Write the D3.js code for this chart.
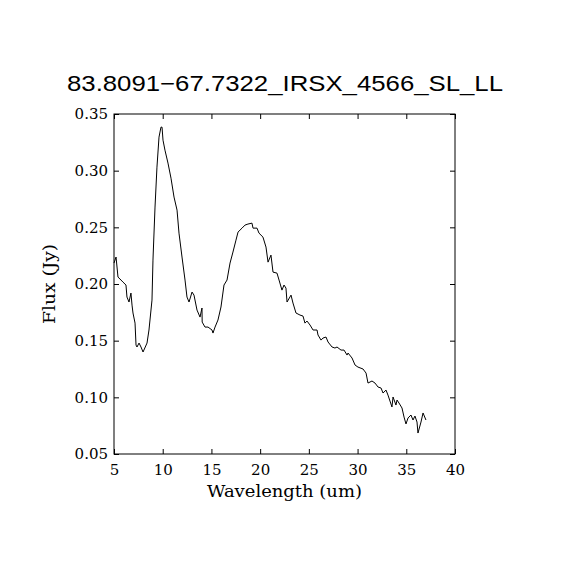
<!DOCTYPE html>
<html>
<head>
<meta charset="utf-8">
<script src="https://cdn.jsdelivr.net/npm/d3@7"></script>
<style>
  body { margin: 0; background: #fff; }
  svg { display: block; }
</style>
</head>
<body>
<div id="chart"></div>
<script>
// spectrum, wavelength (um) and flux (Jy)
const wavelength = [
  5.00, 5.21, 5.41, 5.72, 5.92, 6.23, 6.33, 6.54, 6.74, 6.85, 6.95, 7.16, 7.26, 7.36, 7.57, 7.77,
  7.98, 8.39, 8.59, 8.90, 9.00, 9.21, 9.41, 9.62, 9.82, 9.93, 10.03, 10.23, 10.54, 10.85, 11.16,
  11.47, 11.67, 11.98, 12.29, 12.49, 12.70, 13.01, 13.21, 13.52, 13.83, 14.03, 14.05, 14.34, 14.65,
  15.06, 15.16, 15.37, 15.67, 15.98, 16.29, 16.60, 16.91, 17.21, 17.52, 17.73, 18.14, 18.45, 18.75,
  19.16, 19.27, 19.68, 19.88, 20.29, 20.60, 20.81, 21.11, 21.32, 21.73, 21.94, 22.24, 22.45, 22.65,
  22.76, 23.17, 23.37, 23.68, 24.09, 24.40, 24.60, 24.81, 25.12, 25.43, 25.84, 25.94, 26.25, 26.45,
  26.76, 26.97, 27.38, 27.68, 27.89, 28.30, 28.61, 28.92, 29.02, 29.43, 29.74, 30.04, 30.56, 30.87,
  31.07, 31.48, 31.79, 32.10, 32.41, 32.61, 32.92, 33.12, 33.53, 33.64, 33.94, 34.05, 34.25, 34.56,
  34.77, 34.97, 35.18, 35.48, 35.69, 35.89, 36.10, 36.20, 36.51, 36.72, 37.02
];
const flux = [
  0.2185, 0.2238, 0.2061, 0.2035, 0.2017, 0.1991, 0.1885, 0.1841, 0.1920, 0.1814, 0.1744, 0.1655,
  0.1461, 0.1444, 0.1479, 0.1444, 0.1400, 0.1479, 0.1594, 0.1858, 0.2211, 0.2679, 0.3031, 0.3296,
  0.3384, 0.3384, 0.3269, 0.3181, 0.3067, 0.2934, 0.2767, 0.2652, 0.2449, 0.2238, 0.2035, 0.1885,
  0.1841, 0.1929, 0.1902, 0.1770, 0.1708, 0.1788, 0.1664, 0.1620, 0.1620, 0.1594, 0.1567, 0.1620,
  0.1682, 0.1797, 0.1991, 0.2035, 0.2185, 0.2282, 0.2387, 0.2458, 0.2493, 0.2520, 0.2529, 0.2537,
  0.2493, 0.2493, 0.2449, 0.2414, 0.2326, 0.2193, 0.2255, 0.2105, 0.2096, 0.2035, 0.1946, 0.1991,
  0.1964, 0.1841, 0.1902, 0.1832, 0.1744, 0.1726, 0.1717, 0.1655, 0.1673, 0.1638, 0.1594, 0.1594,
  0.1550, 0.1505, 0.1523, 0.1532, 0.1488, 0.1444, 0.1435, 0.1444, 0.1417, 0.1417, 0.1373, 0.1391,
  0.1347, 0.1285, 0.1267, 0.1250, 0.1214, 0.1126, 0.1144, 0.1126, 0.1091, 0.1082, 0.1038, 0.1064,
  0.1020, 0.0915, 0.1003, 0.0932, 0.0976, 0.0950, 0.0906, 0.0826, 0.0765, 0.0818, 0.0844, 0.0800,
  0.0835, 0.0782, 0.0685, 0.0782, 0.0862, 0.0800
];

const xTicks = [5, 10, 15, 20, 25, 30, 35, 40];
const yTicks = [0.05, 0.10, 0.15, 0.20, 0.25, 0.30, 0.35];

const title = "83.8091\u221267.7322_IRSX_4566_SL_LL";
const xLabel = "Wavelength (um)";
const yLabel = "Flux (Jy)";

const width = 570, height = 570;
const margin = { left: 114, right: 115, top: 114, bottom: 116 };
const w = width - margin.left - margin.right;
const h = height - margin.top - margin.bottom;

const svg = d3.select("#chart").append("svg")
    .attr("width", width)
    .attr("height", height);

const g = svg.append("g")
    .attr("transform", `translate(${margin.left},${margin.top})`);

const x = d3.scaleLinear().domain([5, 40]).range([0, w]);
const y = d3.scaleLinear().domain([0.05, 0.35]).range([h, 0]);

const serif = "'DejaVu Serif', 'Liberation Serif', serif";
const tickLen = 5;

// ticks point inward on all four sides
function styleAxis(sel) {
    sel.select(".domain").remove();
    sel.selectAll(".tick line").attr("stroke", "#000").attr("stroke-width", 1);
    sel.selectAll(".tick text")
        .attr("fill", "#000")
        .style("font-family", serif)
        .style("font-size", "15px");
}

g.append("g")
    .attr("transform", `translate(0,${h})`)
    .call(d3.axisBottom(x).tickValues(xTicks).tickSizeInner(-tickLen).tickSizeOuter(0)
        .tickPadding(10).tickFormat(d3.format("d")))
    .call(styleAxis);

g.append("g")
    .call(d3.axisTop(x).tickValues(xTicks).tickSizeInner(-tickLen).tickSizeOuter(0).tickFormat(""))
    .call(styleAxis);

g.append("g")
    .call(d3.axisLeft(y).tickValues(yTicks).tickSizeInner(-tickLen).tickSizeOuter(0)
        .tickPadding(6).tickFormat(d3.format(".2f")))
    .call(styleAxis);

g.append("g")
    .attr("transform", `translate(${w},0)`)
    .call(d3.axisRight(y).tickValues(yTicks).tickSizeInner(-tickLen).tickSizeOuter(0).tickFormat(""))
    .call(styleAxis);

// frame
g.append("rect")
    .attr("width", w)
    .attr("height", h)
    .attr("fill", "none")
    .attr("stroke", "#000")
    .attr("stroke-width", 1);

const points = wavelength.map((d, i) => [d, flux[i]]);

g.append("path")
    .datum(points)
    .attr("fill", "none")
    .attr("stroke", "#000")
    .attr("stroke-width", 1)
    .attr("d", d3.line().x(d => x(d[0])).y(d => y(d[1])));

svg.append("text")
    .attr("x", 285)
    .attr("y", 91)
    .attr("text-anchor", "middle")
    .attr("textLength", 436)
    .attr("lengthAdjust", "spacingAndGlyphs")
    .style("font-family", "'Liberation Sans', 'DejaVu Sans', sans-serif")
    .style("font-size", "22px")
    .text(title);

svg.append("text")
    .attr("x", margin.left + w / 2)
    .attr("y", 497)
    .attr("text-anchor", "middle")
    .attr("textLength", 155)
    .attr("lengthAdjust", "spacingAndGlyphs")
    .style("font-family", serif)
    .style("font-size", "17px")
    .text(xLabel);

svg.append("text")
    .attr("transform", `translate(55,${margin.top + h / 2}) rotate(-90)`)
    .attr("text-anchor", "middle")
    .attr("textLength", 80)
    .attr("lengthAdjust", "spacingAndGlyphs")
    .style("font-family", serif)
    .style("font-size", "17px")
    .text(yLabel);
</script>
</body>
</html>
